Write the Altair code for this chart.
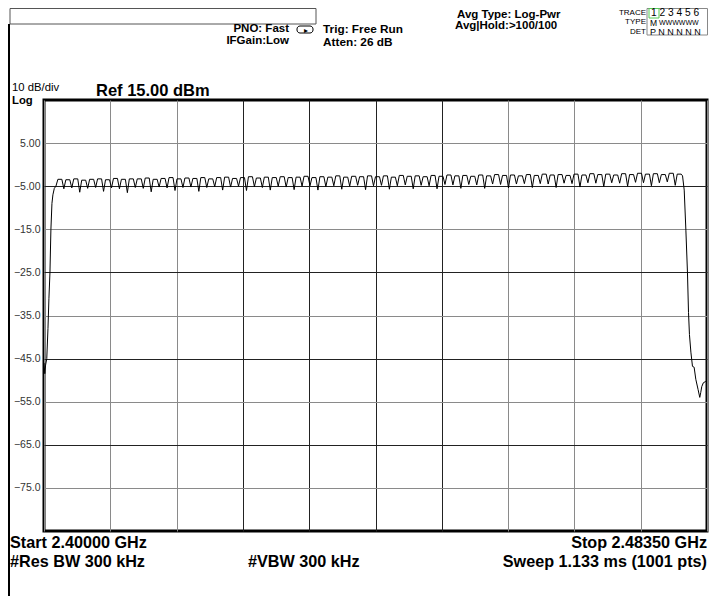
import altair as alt
import pandas as pd

# ---------------- data ----------------
# rising edge at the band start (MHz, dBm)
rise_f = [2400.00, 2400.10, 2400.20, 2400.35, 2400.50, 2400.62, 2400.75, 2400.87, 2401.00, 2401.12, 2401.30]
rise_db = [-46.0, -48.5, -46.5, -45.0, -38.0, -31.0, -25.0, -15.0, -9.0, -7.0, -5.5]

# hop channel centres (MHz) and max-hold peak level of each channel (dBm)
channels = list(range(2402, 2481))
peak_db = [
    -3.4, -3.5, -3.3, -3.6, -3.4, -3.3, -3.5, -3.2, -3.4, -3.3,
    -3.3, -3.1, -3.4, -3.2, -3.0, -3.3, -3.1, -3.2, -3.0, -3.3,
    -3.0, -2.9, -3.2, -3.0, -2.8, -3.1, -2.9, -3.0, -2.8, -3.0,
    -2.9, -2.7, -3.0, -2.8, -2.9, -2.6, -2.9, -2.7, -2.8, -2.6,
    -2.8, -2.6, -2.9, -2.5, -2.7, -2.6, -2.8, -2.5, -2.7, -2.4,
    -2.6, -2.5, -2.7, -2.4, -2.6, -2.3, -2.5, -2.4, -2.6, -2.3,
    -2.5, -2.2, -2.4, -2.3, -2.5, -2.2, -2.4, -2.1, -2.3, -2.2,
    -2.4, -2.1, -2.3, -2.0, -2.2, -2.1, -2.3, -2.0, -2.2,
]
# level of the notch just below each channel (at centre - 0.5 MHz)
dip_db = [
    -5.0, -5.6, -5.4, -6.4, -5.5, -5.3, -6.2, -5.4, -5.6, -6.5,
    -5.3, -5.5, -6.3, -5.2, -5.4, -6.0, -5.3, -5.2, -6.2, -5.3,
    -5.1, -5.9, -5.2, -5.0, -6.0, -5.1, -5.3, -5.9, -5.0, -5.2,
    -5.8, -5.0, -4.9, -5.9, -5.1, -4.9, -5.7, -5.0, -4.8, -5.8,
    -4.9, -4.8, -5.7, -4.9, -4.7, -5.6, -4.8, -4.9, -5.6, -4.6,
    -4.7, -5.5, -4.6, -4.7, -5.5, -4.5, -4.6, -5.4, -4.5, -4.4,
    -5.3, -4.4, -4.5, -5.3, -4.3, -4.4, -5.2, -4.2, -4.3, -5.1,
    -4.2, -4.3, -5.0, -4.1, -4.2, -4.9, -4.2, -4.0, -4.8,
]
# falling edge at the band end (MHz, dBm)
fall_f = [2480.42, 2480.63, 2480.84, 2481.04, 2481.17, 2481.29, 2481.47, 2481.67, 2481.88,
          2482.09, 2482.38, 2482.59, 2482.71, 2482.84, 2483.04, 2483.34, 2483.50]
fall_db = [-2.6, -5.9, -15.2, -25.0, -34.3, -39.4, -43.5, -46.8, -47.0,
           -49.8, -52.2, -54.0, -52.9, -51.5, -50.6, -50.3, -50.5]

x_grid = [2400.0, 2408.35, 2416.7, 2425.05, 2433.4, 2441.75, 2450.1, 2458.45, 2466.8, 2475.15, 2483.5]
y_ticks = [5, -5, -15, -25, -35, -45, -55, -65, -75]

# ---------------- table ----------------
rows = [{"f": f, "db": d} for f, d in zip(rise_f, rise_db)]
for c, p, d in zip(channels, peak_db, dip_db):
    rows.append({"f": c - 0.5, "db": d})
    rows.append({"f": c - 0.25, "db": p})
    rows.append({"f": c + 0.25, "db": p})
rows += [{"f": f, "db": d} for f, d in zip(fall_f, fall_db)]
df = pd.DataFrame(rows)

PX, PY = 44, 100          # page position of plot origin
W, H = 663, 431
SVG_W, SVG_H = 701, 588
RX = PX + W               # page x of plot right edge
FONT = "Liberation Sans"

trace = alt.Chart(df).mark_line(color="black", strokeWidth=1, clip=True).encode(
    x=alt.X("f:Q",
            scale=alt.Scale(domain=[2400, 2483.5], nice=False, zero=False),
            axis=alt.Axis(values=x_grid, labels=False, ticks=False, domain=False, title=None,
                          grid=True, gridOpacity=1, gridWidth=1,
                          gridColor=alt.condition("datum.value > 2420 && datum.value < 2452",
                                                  alt.value("#222222"), alt.value("#8a8a8a")))),
    y=alt.Y("db:Q",
            scale=alt.Scale(domain=[-85, 15], nice=False, zero=False),
            axis=alt.Axis(values=y_ticks, ticks=False, domain=False, title=None,
                          labelExpr="abs(datum.value) < 10 ? format(datum.value, '.2f') : format(datum.value, '.1f')",
                          labelPadding=4, labelFontSize=10.5, labelFont=FONT, labelColor="#333333",
                          grid=True, gridOpacity=1, gridWidth=1,
                          gridColor=alt.condition("datum.value == -5 || datum.value == -25 || datum.value == -45 || datum.value == -65",
                                                  alt.value("#222222"), alt.value("#8a8a8a")))),
)

ONE = alt.InlineData(values=[{"k": 1}])


def txt(s, x, y, size=12, weight="bold", align="left", color="black", font=FONT):
    return alt.Chart(ONE).mark_text(text=s, align=align, baseline="middle", fontSize=size,
                                    fontWeight=weight, font=font, color=color).encode(
        x=alt.value(x - PX), y=alt.value(y - PY))


def box(x1, y1, x2, y2, color="#555555", width=1, radius=0):
    return alt.Chart(ONE).mark_rect(fillOpacity=0, stroke=color, strokeWidth=width,
                                    cornerRadius=radius).encode(
        x=alt.value(x1 - PX), x2=alt.value(x2 - PX), y=alt.value(y1 - PY), y2=alt.value(y2 - PY))


left_line = alt.Chart(ONE).mark_rule(color="black", strokeWidth=2).encode(
    x=alt.value(9 - PX), y=alt.value(24 - PY), y2=alt.value(SVG_H + 8 - PY))

TB = RX - 60              # left edge of the trace box
layers = [
    trace,
    left_line,
    box(10, 8.5, 316, 24),
    txt("PNO: Fast", 289, 29, 11.5, align="right"),
    txt("IFGain:Low", 289, 41, 11.5, align="right"),
    box(297, 26, 313, 33, color="black", radius=3),
    txt("▸", 306, 31, 8, weight="normal", align="center", font="DejaVu Sans"),
    txt("Trig: Free Run", 323, 29, 11.8),
    txt("Atten: 26 dB", 323, 41.5, 11.8),
    txt("Avg Type: Log-Pwr", 457, 14.5, 11.5),
    txt("Avg|Hold:>100/100", 455, 26, 11.5),
    box(TB, 8.5, RX + 0.5, 35, color="#888888"),
    box(TB + 2, 8.5, TB + 12, 18, color="#55cc55"),
    txt("TRACE", TB - 1, 12.5, 8, weight="normal", align="right"),
    txt("1 2 3 4 5 6", TB + 4, 13, 10.2, weight="normal"),
    txt("TYPE", TB - 1, 22, 8, weight="normal", align="right"),
    txt("M", TB + 3, 22.5, 8.5, weight="normal"),
    txt("WWWWWW", TB + 12, 22.5, 7, weight="normal"),
    txt("DET", TB - 1, 31.5, 8, weight="normal", align="right"),
    txt("P  N N N N N", TB + 3, 32, 9, weight="normal"),
    txt("10 dB/div", 12, 87.5, 11.3, weight="normal"),
    txt("Log", 12, 101, 11.3),
    txt("Ref 15.00 dBm", 96, 91, 16.5),
    txt("Start 2.40000 GHz", 10, 543, 16.2),
    txt("Stop 2.48350 GHz", RX, 543, 16.2, align="right"),
    txt("#Res BW 300 kHz", 10, 562, 16.2),
    txt("#VBW 300 kHz", 248, 562, 16.2),
    txt("Sweep  1.133 ms (1001 pts)", RX, 562, 16.2, align="right"),
]

chart = alt.layer(*layers).properties(
    width=W, height=H,
    autosize=alt.AutoSizeParams(type="none"),
    padding={"left": PX - 8, "top": PY - 8, "right": SVG_W - (PX - 8) - W, "bottom": SVG_H - (PY - 8) - H},
    background="white",
).configure_view(stroke="black", strokeWidth=3)

chart.save("out.html", embed_options={"renderer": "svg", "actions": False})
